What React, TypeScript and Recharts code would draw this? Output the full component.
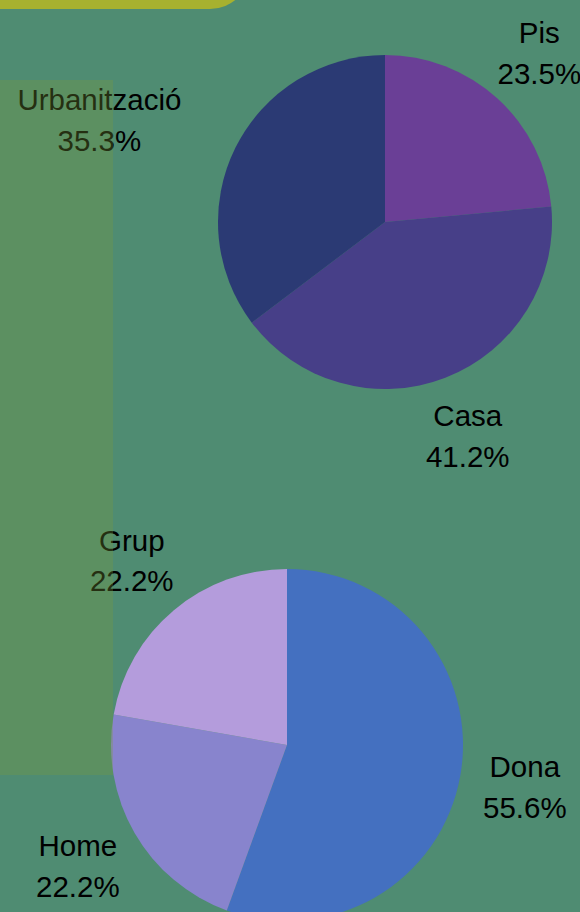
import React from 'react';
import { PieChart, Pie, Cell } from 'recharts';

const W = 580;
const H = 912;

// habitatge
const homeTypes = ['Pis', 'Casa', 'Urbanització'];
const homeCounts = [4, 7, 6];
const homeColors = ['#6a3f96', '#473f88', '#2b3a74'];

// gènere
const genderTypes = ['Dona', 'Home', 'Grup'];
const genderCounts = [5, 2, 2];
const genderColors = ['#4470c0', '#8884cd', '#b49cdc'];

const FONT_SIZE = 29.5;
const LINE_GAP = 41;
const RADIAN = Math.PI / 180;

const homeData = homeTypes.map((name, i) => ({ name, value: homeCounts[i] }));
const genderData = genderTypes.map((name, i) => ({ name, value: genderCounts[i] }));

const renderLabel = (props: any) => {
  const { cx, cy, midAngle, outerRadius, percent, name } = props;
  const dist = outerRadius * 1.372;
  let x = cx + dist * Math.cos(-midAngle * RADIAN);
  const y = cy + dist * Math.sin(-midAngle * RADIAN);
  const pct = `${(percent * 100).toFixed(1)}%`;
  const half = (Math.max(name.length, pct.length) * 0.455 * FONT_SIZE) / 2;

  // push label sideways if it would run into the pie
  const dy = y - cy;
  if (Math.abs(dy) < outerRadius) {
    const edge = Math.sqrt(outerRadius * outerRadius - dy * dy);
    if (x < cx && x + half > cx - edge) x -= half;
    if (x > cx && x - half < cx + edge) x += half;
  }

  return (
    <g>
      <text
        x={x}
        y={y - LINE_GAP / 2 + 0.5}
        textAnchor="middle"
        dominantBaseline="central"
        fill="#000"
        fontSize={FONT_SIZE}
        fontFamily="'Liberation Sans', Arial, sans-serif"
      >
        {name}
      </text>
      <text
        x={x}
        y={y + LINE_GAP / 2}
        textAnchor="middle"
        dominantBaseline="central"
        fill="#000"
        fontSize={FONT_SIZE}
        fontFamily="'Liberation Sans', Arial, sans-serif"
      >
        {pct}
      </text>
    </g>
  );
};

export default function App() {
  return (
    <div
      style={{
        position: 'absolute',
        left: 0,
        top: 0,
        width: W,
        height: H,
        overflow: 'hidden',
        background: '#4f8c72',
      }}
    >
      <PieChart width={W} height={H} margin={{ top: 0, right: 0, bottom: 0, left: 0 }}>
        <Pie
          data={homeData}
          dataKey="value"
          nameKey="name"
          cx={385}
          cy={222}
          outerRadius={167}
          startAngle={90}
          endAngle={-270}
          stroke="none"
          label={renderLabel}
          labelLine={false}
          isAnimationActive={false}
        >
          {homeData.map((entry, index) => (
            <Cell key={`home-${index}`} fill={homeColors[index]} />
          ))}
        </Pie>
        <Pie
          data={genderData}
          dataKey="value"
          nameKey="name"
          cx={287}
          cy={745}
          outerRadius={176}
          startAngle={90}
          endAngle={-270}
          stroke="none"
          label={renderLabel}
          labelLine={false}
          isAnimationActive={false}
        >
          {genderData.map((entry, index) => (
            <Cell key={`gender-${index}`} fill={genderColors[index]} />
          ))}
        </Pie>
      </PieChart>

      {/* decorative shapes over the chart */}
      <div
        style={{
          position: 'absolute',
          left: -40,
          top: -60,
          width: 290,
          height: 69,
          background: '#a7b12f',
          borderBottomRightRadius: 40,
        }}
      />
      <div
        style={{
          position: 'absolute',
          left: 0,
          top: 80,
          width: 113,
          height: 695,
          background: '#7c9a3a',
          opacity: 0.3,
        }}
      />
    </div>
  );
}
